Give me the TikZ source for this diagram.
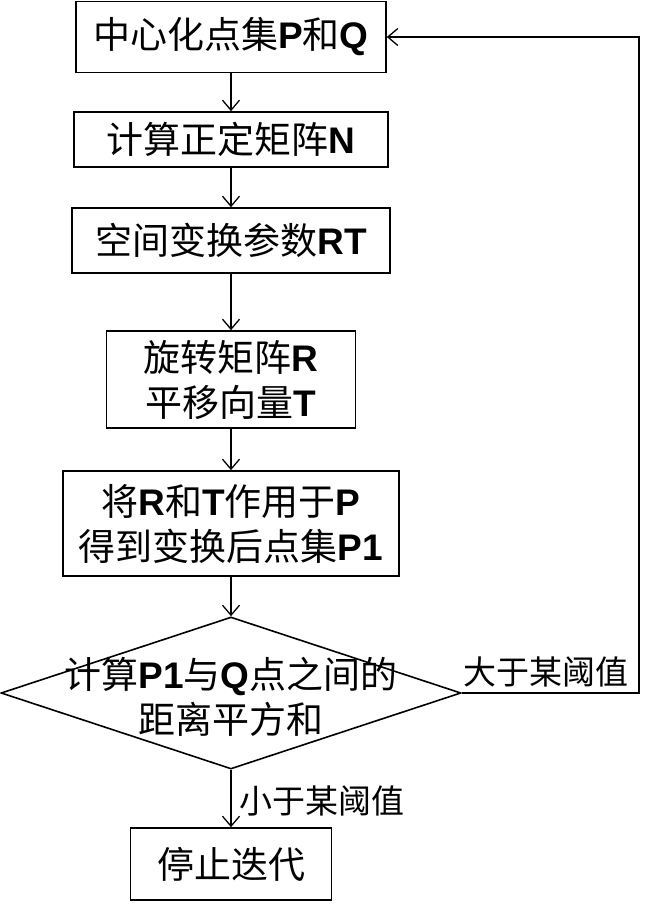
\documentclass[tikz,border=0pt]{standalone}
\usepackage{fontspec}
\setmainfont{Liberation Sans}
\newfontfamily\cjk{Noto Sans CJK SC}
\usetikzlibrary{arrows.meta,shapes.geometric}
\newcommand{\bL}[1]{\textbf{#1}}
\newcommand{\zh}[1]{{\cjk #1}}
\begin{document}
\begin{tikzpicture}[x=1pt,y=-1pt,
  box/.style={draw,line width=1.6pt,inner sep=0pt,align=center,font=\fontsize{37}{45}\selectfont},
  conn/.style={line width=1.3pt,-{Straight Barb[length=10pt,width=17pt,line width=1.3pt]}},
  lab/.style={inner sep=0pt,font=\cjk\fontsize{33}{40}\selectfont}]
\useasboundingbox (0,0) rectangle (649,909);
\node[box,minimum width=310pt,minimum height=71pt] (b1) at (231,37) {\zh{中心化点集}\bL{P}\zh{和}\bL{Q}};
\node[box,minimum width=314pt,minimum height=55pt] (b2) at (231,139.5) {\zh{计算正定矩阵}\bL{N}};
\node[box,minimum width=318pt,minimum height=65pt] (b3) at (231,240.5) {\zh{空间变换参数}\bL{RT}};
\node[box,minimum width=249pt,minimum height=97pt] (b4) at (231,379.5) {\zh{旋转矩阵}\bL{R}\\\zh{平移向量}\bL{T}};
\node[box,minimum width=336pt,minimum height=105pt] (b5) at (231,523.5) {\zh{将}\bL{R}\zh{和}\bL{T}\zh{作用于}\bL{P}\\\zh{得到变换后点集}\bL{P1}};
\node[draw,diamond,line width=1.6pt,inner sep=0pt,minimum width=460pt,minimum height=152pt] (d) at (231,693) {};
\node[inner sep=0pt,align=center,font=\fontsize{37}{45}\selectfont] (dt) at (231,697) {\zh{计算}\bL{P1}\zh{与}\bL{Q}\zh{点之间的}\\\zh{距离平方和}};
\node[box,minimum width=201pt,minimum height=72pt] (b6) at (231,864) {\zh{停止迭代}};
\coordinate (lr) at (639,693);
\draw[conn] (b1.south) -- (b2.north);
\draw[conn] (b2.south) -- (b3.north);
\draw[conn] (b3.south) -- (b4.north);
\draw[conn] (b4.south) -- (b5.north);
\draw[conn] (b5.south) -- (d.north);
\draw[conn] (d.south) -- (b6.north);
\draw[conn] (d.east) -- (lr) |- (b1.east);
\node[lab] (gt) at (546,672) {大于某阈值};
\node[lab] (lt) at (322,801) {小于某阈值};
\end{tikzpicture}
\end{document}
